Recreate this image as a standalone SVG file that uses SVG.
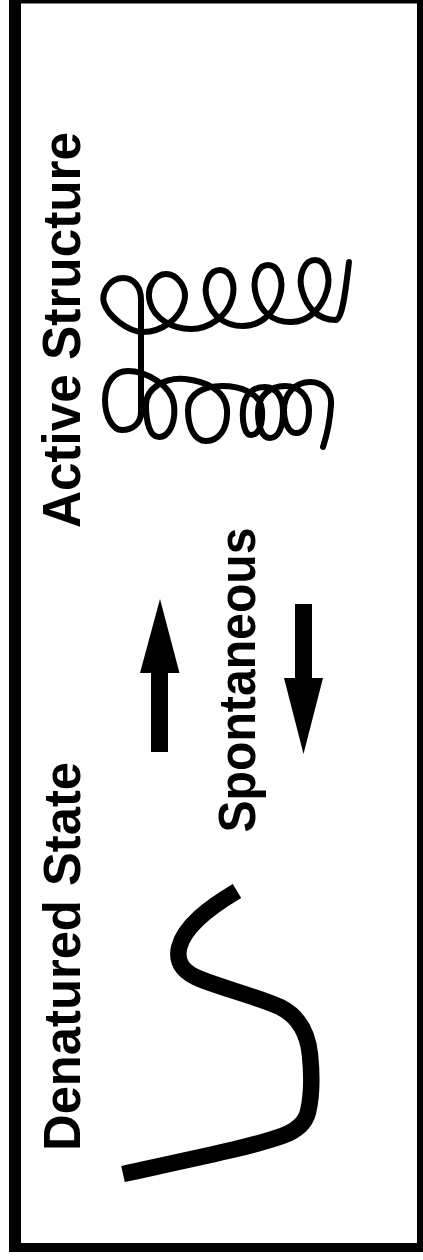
<svg xmlns="http://www.w3.org/2000/svg" width="423" height="1260" viewBox="0 0 423 1260">
  <style>
    .label { font-family: "Liberation Sans", Arial, Helvetica, sans-serif; font-weight: bold; fill: #000; }
    .coil { fill: none; stroke: #000; stroke-width: 6; stroke-linecap: round; stroke-linejoin: round; }
    .chain { fill: none; stroke: #000; stroke-width: 16.5; stroke-linecap: butt; stroke-linejoin: round; }
    .arrow { fill: #000; stroke: none; }
  </style>

  <rect width="423" height="1260" fill="#fff"/>

  <!-- outer frame: heavy left and bottom rules, lighter top and right -->
  <g id="frame" fill="#000">
    <rect x="9" y="0" width="12" height="1252"/>
    <rect x="9" y="0" width="414" height="3.5"/>
    <rect x="417" y="0" width="6" height="1252"/>
    <rect x="9" y="1243" width="414" height="9"/>
  </g>

  <!-- folded protein: helical coil -->
  <g id="active-structure">
    <path class="coil" d="M349,262
      C346,286 343,318 336,320
      C317,320 306.4,306.5 302,290.5
      C297.6,274.5 305,260 315,260
      C325,260 331.4,274.5 327,290.5
      C322.6,306.5 310,322 291,322
      C272,322 260.4,311 256,295
      C251.6,279 258,265 268,265
      C278,265 284.4,279 280,295
      C275.6,311 262,326 243,326
      C224,326 211.4,315 207,299
      C202.6,283 210,270 220,270
      C230,270 236.4,283 232,299
      C227.6,315 210,329 191,329
      C172,329 154.4,318.5 150,302.5
      C145.6,286.5 156,274 166,274
      C176,274 188.4,286.5 184,302.5
      C179.6,318.5 162,332 143,332
      C128,332 108,316 104,303
      C101,292 110,278 123,278
      C134,278 141,287 141,300
      L141,412
      C141,424 132,430 122,430
      C113,430 105,417 105,400
      C105,383 114,371 128,371
      C145,371 172,385 174,405
      C176,425 168,437 159,437
      C150,437 146,423 146,405
      C146,388 165,377 185,379
      C205,381 226,390 227,410
      C228,430 218,441 206,441
      C195,441 188,428 188,410
      C188,393 205,386 222,386
      C240,386 261,393 262,410
      C263,426 258,435 251,435
      C245,435 242,423 243,410
      C244,395 252,387 265,387
      C276,387 283,397 283,412
      C283,428 278,438 270,438
      C262,438 258,426 258,412
      C258,396 270,386 285,386
      C299,386 309,396 309,410
      C309,425 304,433 296,433
      C289,433 284,423 284,410
      C284,393 296,382 310,382
      C324,382 332,392 331,405
      C330,420 327,435 323,447"/>
  </g>

  <g id="label-active">
    <text class="label" font-size="53" textLength="396" lengthAdjust="spacingAndGlyphs" text-anchor="middle" transform="translate(80,330) rotate(-90)">Active Structure</text>
  </g>

  <!-- unfolded protein: extended chain -->
  <g id="denatured-state">
    <path class="chain" d="M237,891
      C210,907 184,926 179,948
      C176,963 183,972 200,979
      C225,989 255,996 280,1007
      C300,1017 308,1035 310,1055
      C312,1075 312,1095 308,1112
      C305,1124 296,1131 282,1136
      C250,1147 215,1154 123,1174"/>
  </g>

  <g id="label-denatured">
    <text class="label" font-size="52" textLength="389" lengthAdjust="spacingAndGlyphs" text-anchor="middle" transform="translate(80,956.5) rotate(-90)">Denatured State</text>
  </g>

  <g id="label-spontaneous">
    <text class="label" font-size="52" textLength="305" lengthAdjust="spacingAndGlyphs" text-anchor="middle" transform="translate(255,680) rotate(-90)">Spontaneous</text>
  </g>

  <!-- equilibrium arrows -->
  <g id="connectors">
    <polygon class="arrow" points="160,599 179.5,673 168,673 168,752 151,752 151,673 140,673"/>
    <polygon class="arrow" points="295,604 312,604 312,678 323,678 303.5,754 284,678 295,678"/>
  </g>
</svg>
